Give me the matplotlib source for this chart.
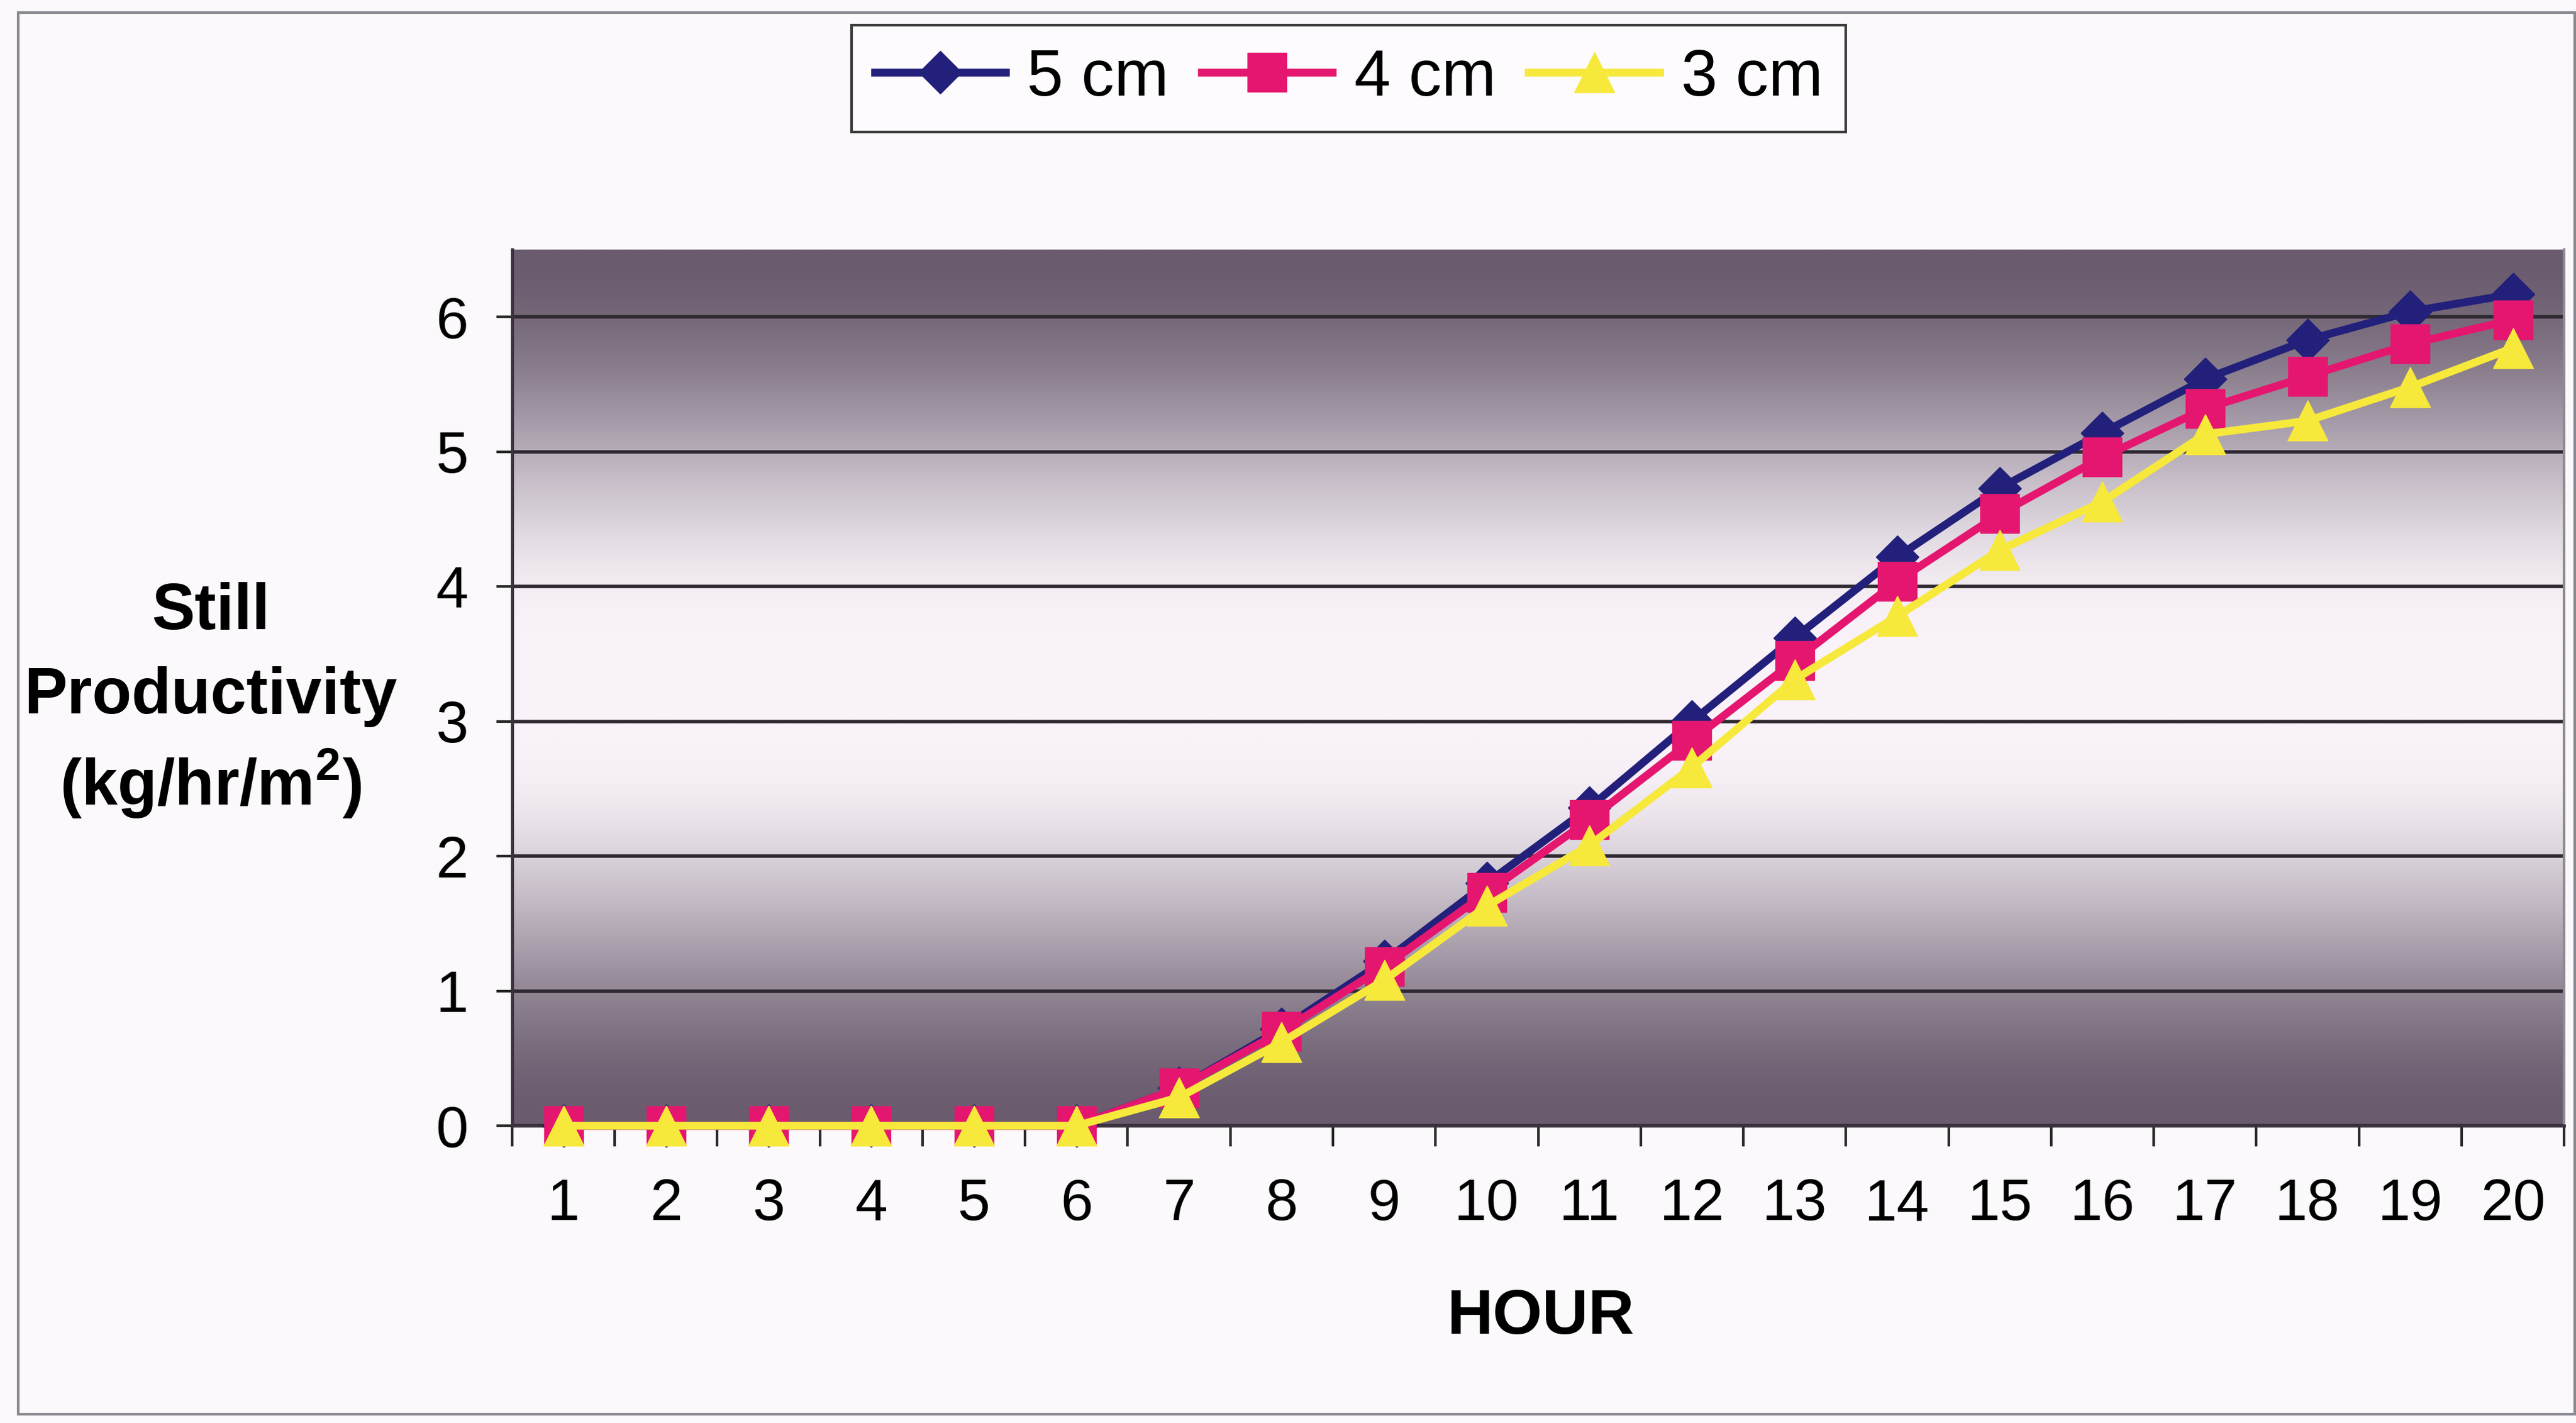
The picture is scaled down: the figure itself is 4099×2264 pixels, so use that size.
import numpy as np
import matplotlib
matplotlib.use("Agg")
import matplotlib.pyplot as plt
from matplotlib.patches import Rectangle

# ---- data -------------------------------------------------------------
hours = list(range(1, 21))
series_labels = ["5 cm", "4 cm", "3 cm"]
depth_5cm = [0, 0, 0, 0, 0, 0, 0.28, 0.72, 1.22, 1.80, 2.36, 3.00, 3.62, 4.22,
             4.73, 5.14, 5.54, 5.83, 6.04, 6.17]
depth_4cm = [0, 0, 0, 0, 0, 0, 0.28, 0.70, 1.18, 1.73, 2.27, 2.86, 3.45, 4.04,
             4.54, 4.96, 5.32, 5.56, 5.80, 5.98]
depth_3cm = [0, 0, 0, 0, 0, 0, 0.21, 0.62, 1.08, 1.63, 2.08, 2.66, 3.31, 3.78,
             4.27, 4.63, 5.13, 5.23, 5.48, 5.77]
y_ticks = [0, 1, 2, 3, 4, 5, 6]

# ---- style ------------------------------------------------------------
plt.rcParams['font.family'] = ['Liberation Sans', 'DejaVu Sans']
plt.rcParams['mathtext.fontset'] = 'custom'
plt.rcParams['mathtext.rm'] = 'Liberation Sans'
plt.rcParams['mathtext.bf'] = 'Liberation Sans:bold'
plt.rcParams['legend.numpoints'] = 1

fig = plt.figure(figsize=(40.99, 22.64), dpi=100, facecolor='#fcf9fc')
ax = fig.add_axes([0.1988, 0.2089, 0.9954 - 0.1988, 0.8246 - 0.2089])

# vertical gradient fill: dark at top and bottom, pale in the middle
ymin, ymax = 0, 6.5
yy = np.linspace(ymin, ymax, 600)
t = np.abs(yy - (ymin + ymax) / 2) / ((ymax - ymin) / 2)
t = np.clip((t - 0.12) / 0.88, 0, 1)
f = t * t * (3 - 2 * t)
light = np.array([249, 243, 249]) / 255
dark = np.array([106, 92, 110]) / 255
cols = light[None, :] * (1 - f[:, None]) + dark[None, :] * f[:, None]
ax.imshow(cols[:, None, :], extent=(0.5, 20.5, ymin, ymax), origin='lower',
          aspect='auto', zorder=0, interpolation='bilinear')

ax.set_xlim(0.5, 20.5)
ax.set_ylim(ymin, ymax)

# horizontal gridlines
ax.set_axisbelow(True)
ax.set_yticks(y_ticks)
ax.yaxis.grid(True, color='#2f2a32', linewidth=4)
ax.xaxis.grid(False)

# series
colors = ['#22207a', '#e5166f', '#f7e83c']
markers = ['D', 's', '^']
msizes = [35, 44, 46]
for i, (vals, lab) in enumerate(zip([depth_5cm, depth_4cm, depth_3cm], series_labels)):
    ax.plot(hours, vals, color=colors[i], lw=9, marker=markers[i], ms=msizes[i],
            mec=colors[i], mfc=colors[i], mew=1, label=lab, clip_on=False,
            zorder=3 + i)

# x axis: tick marks between categories, labels on categories
ax.set_xticks(np.arange(0.5, 21, 1))
ax.set_xticklabels([])
ax.set_xticks(hours, minor=True)
ax.set_xticklabels([str(h) for h in hours], minor=True, fontsize=67)
ax.tick_params(axis='x', which='major', length=24, width=3, direction='out',
               color='#2a2a2a')
ax.tick_params(axis='x', which='minor', length=0, pad=60)

ax.set_yticklabels([str(v) for v in y_ticks], fontsize=67)
ax.tick_params(axis='y', length=18, width=3, direction='out', color='#2a2a2a',
               pad=32)

for side in ['left', 'bottom']:
    ax.spines[side].set_color('#3a323d')
    ax.spines[side].set_linewidth(3.5)
ax.spines['right'].set_color('#8d8a90')
ax.spines['right'].set_linewidth(3)
ax.spines['top'].set_visible(False)

# axis titles
fig.text(0.0817, 0.5577, 'Still', fontsize=74, fontweight='bold',
         ha='center', va='baseline')
fig.text(0.0817, 0.4988, 'Productivity', fontsize=74, fontweight='bold',
         ha='center', va='baseline')
fig.text(0.0817, 0.4342, r'(kg/hr/m$^{\mathbf{2}}$)', fontsize=74,
         fontweight='bold', ha='center', va='baseline')
fig.text(0.598, 0.074, 'HOUR', fontsize=73, fontweight='bold',
         ha='center', va='center')

# legend
leg = ax.legend(loc='center', bbox_to_anchor=(0.5236, 0.9446),
                bbox_transform=fig.transFigure, ncol=3, fontsize=75,
                handlelength=2.0, handletextpad=0.33, columnspacing=0.5,
                frameon=True, fancybox=False, edgecolor='#3a3a3a',
                framealpha=1, facecolor='#fdfbfd', borderpad=0.35)
leg.get_frame().set_linewidth(3)

# outer chart border
fig.patches.append(Rectangle((0.007, 0.006), 0.9925, 0.985,
                             transform=fig.transFigure, fill=False,
                             edgecolor='#8a8890', linewidth=3))

fig.savefig('out.png', dpi=100, facecolor=fig.get_facecolor())
